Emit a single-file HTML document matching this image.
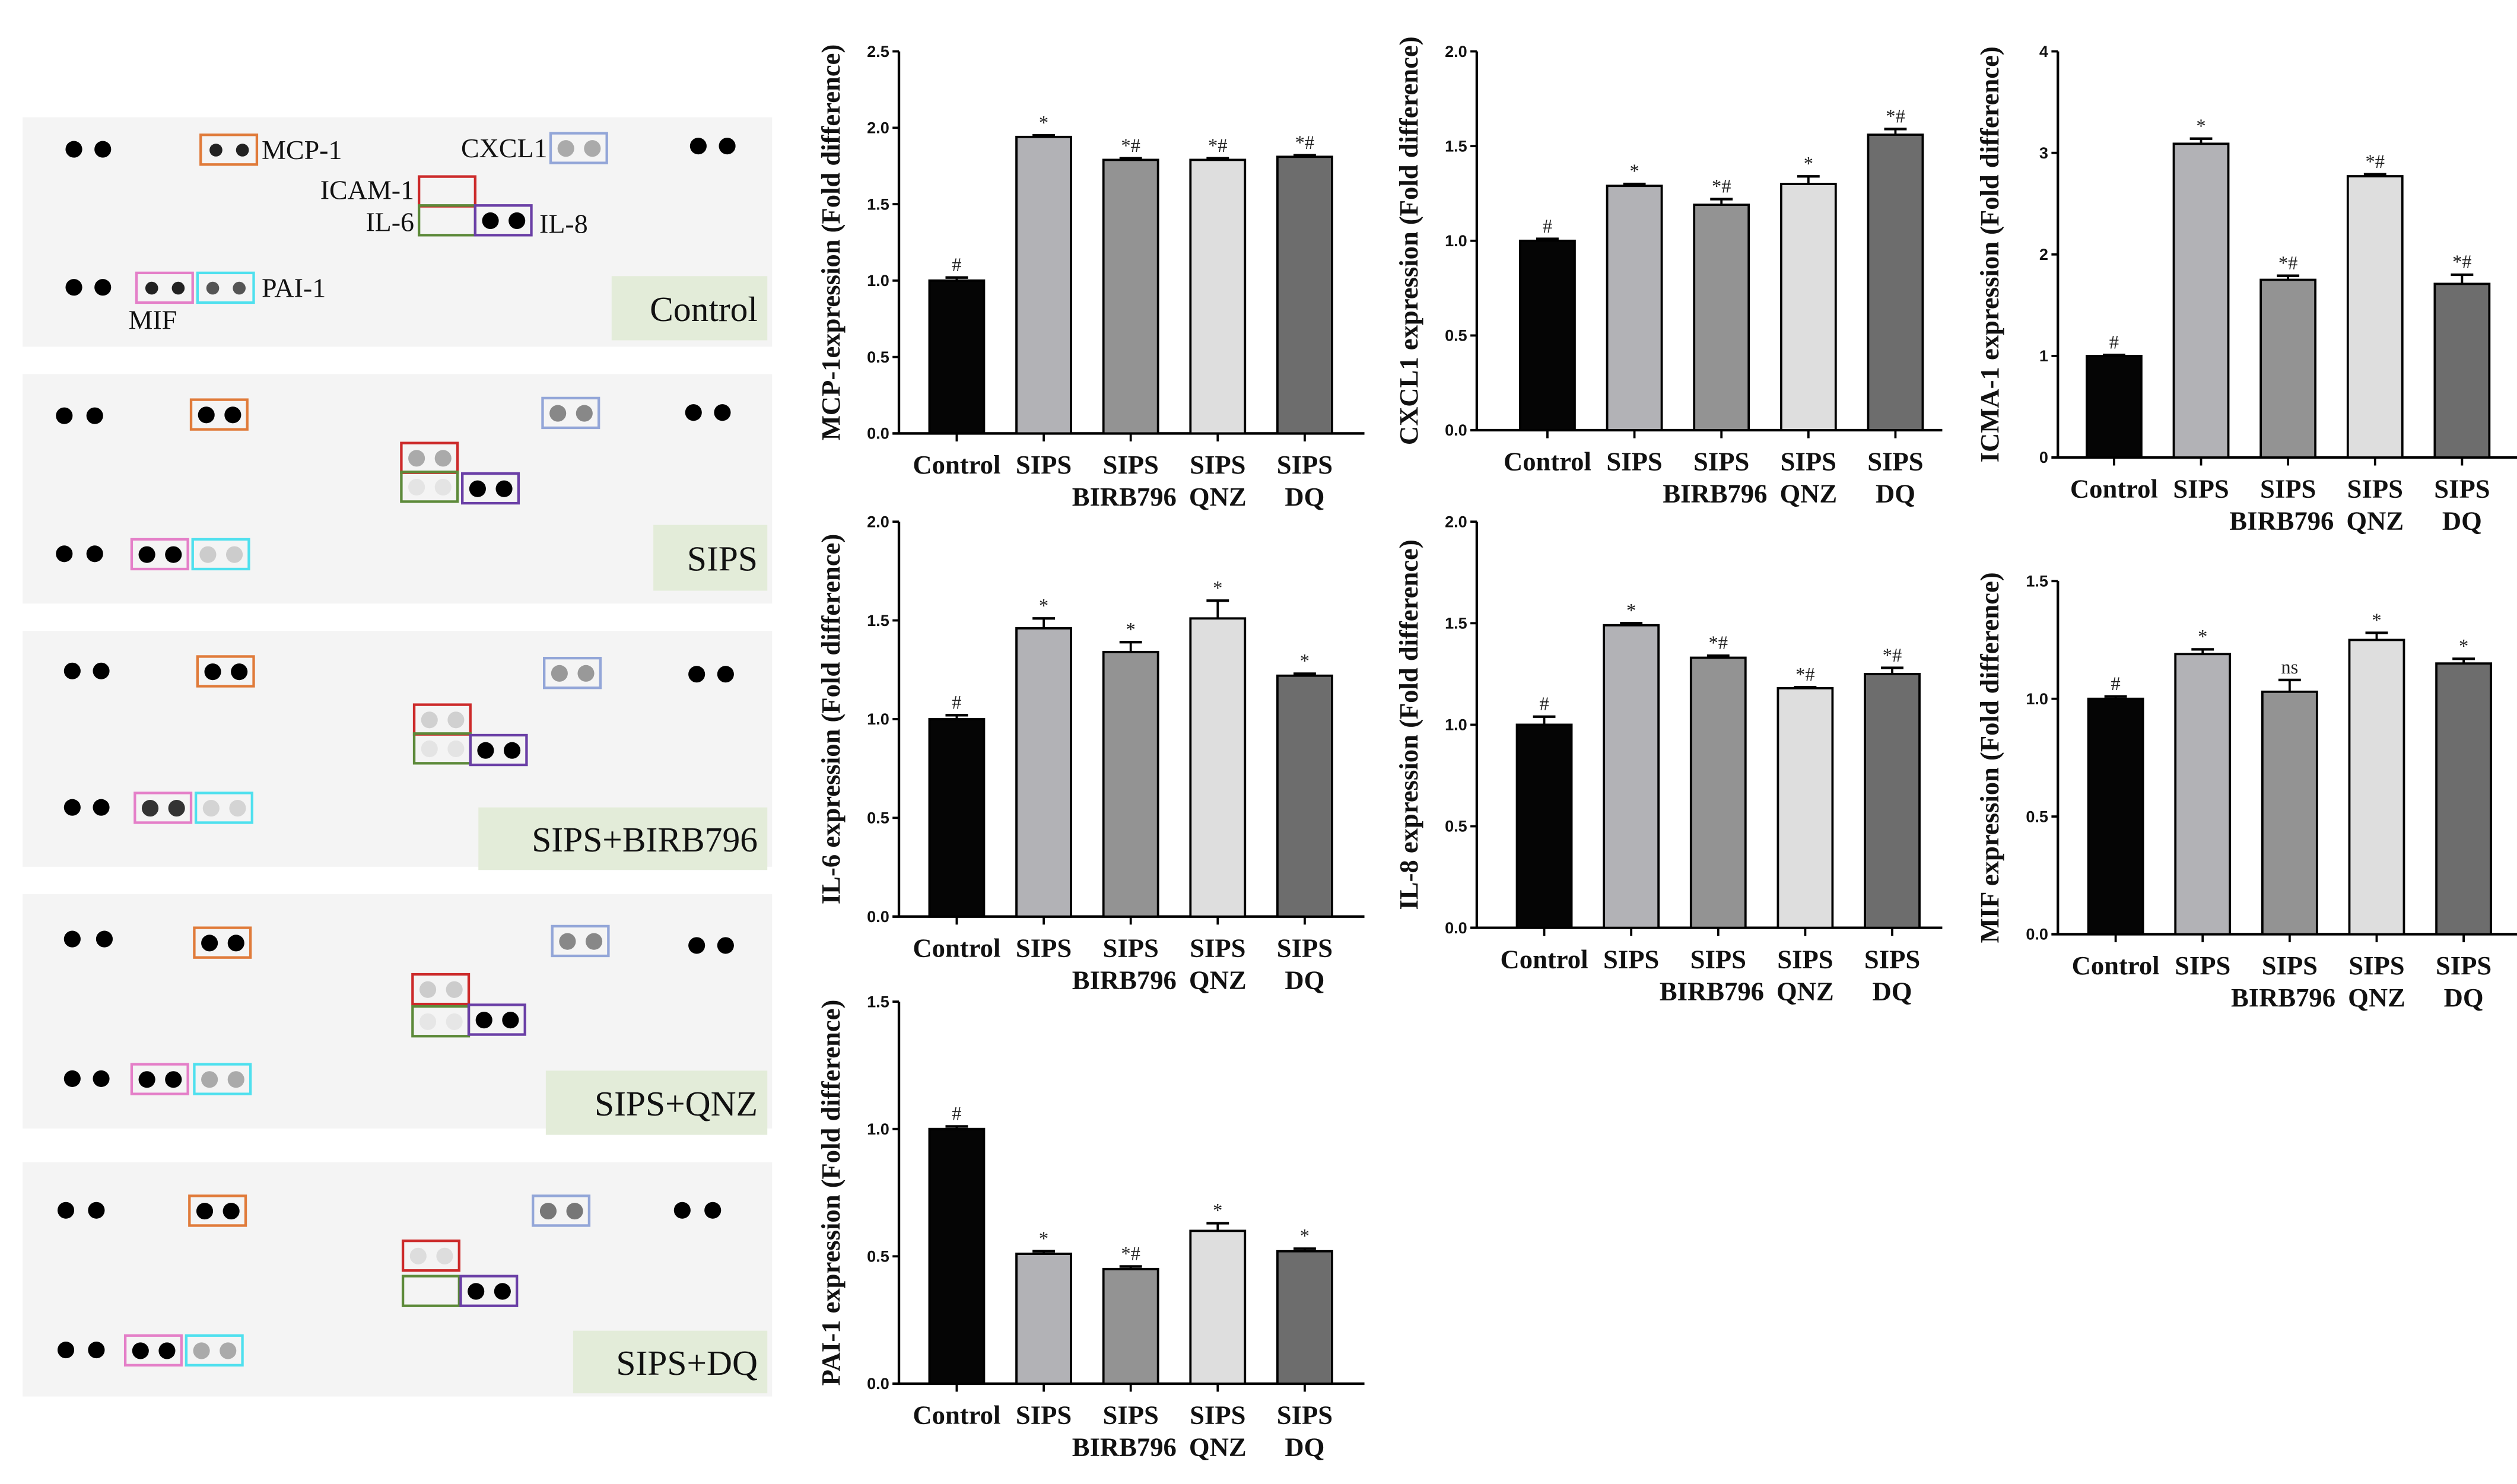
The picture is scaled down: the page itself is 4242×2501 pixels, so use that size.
<!DOCTYPE html>
<html><head><meta charset="utf-8">
<style>
html,body{margin:0;padding:0;background:#fff;}
svg{display:block;}
</style></head>
<body>
<svg id="fig" xmlns="http://www.w3.org/2000/svg" width="4242" height="2501" viewBox="0 0 1568 924.5">
<g id="membranes"></g>
<g id="charts"></g>
</svg>
<script>
// ---------- chart data ----------
const categories = ["Control","SIPS","SIPS\nBIRB796","SIPS\nQNZ","SIPS\nDQ"];
const mcp1Values = [1.0,1.94,1.79,1.79,1.81];
const mcp1Errors = [0.02,0.01,0.01,0.01,0.01];
const mcp1Marks = ["#","*","*#","*#","*#"];
const cxcl1Values = [1.0,1.29,1.19,1.30,1.56];
const cxcl1Errors = [0.01,0.01,0.03,0.04,0.03];
const cxcl1Marks = ["#","*","*#","*","*#"];
const icam1Values = [1.0,3.09,1.75,2.77,1.71];
const icam1Errors = [0.01,0.05,0.04,0.02,0.09];
const icam1Marks = ["#","*","*#","*#","*#"];
const il6Values = [1.0,1.46,1.34,1.51,1.22];
const il6Errors = [0.02,0.05,0.05,0.09,0.01];
const il6Marks = ["#","*","*","*","*"];
const il8Values = [1.0,1.49,1.33,1.18,1.25];
const il8Errors = [0.04,0.01,0.01,0.005,0.03];
const il8Marks = ["#","*","*#","*#","*#"];
const mifValues = [1.0,1.19,1.03,1.25,1.15];
const mifErrors = [0.01,0.02,0.05,0.03,0.02];
const mifMarks = ["#","*","ns","*","*"];
const pai1Values = [1.0,0.51,0.45,0.60,0.52];
const pai1Errors = [0.01,0.01,0.01,0.03,0.01];
const pai1Marks = ["#","*","*#","*","*"];
const ticks25 = ["0.0","0.5","1.0","1.5","2.0","2.5"];
const ticks20 = ["0.0","0.5","1.0","1.5","2.0"];
const ticks4 = ["0","1","2","3","4"];
const ticks15 = ["0.0","0.5","1.0","1.5"];
const barColors = ["#050505","#b2b2b6","#939393","#dedede","#6d6d6d"];

const NS = "http://www.w3.org/2000/svg";
function mk(tag, attrs, parent){
  const e = document.createElementNS(NS, tag);
  for (const k in attrs) e.setAttribute(k, attrs[k]);
  parent.appendChild(e);
  return e;
}
const SERIF = '"Liberation Serif", serif';
const SANS = '"Liberation Sans", sans-serif';

function drawChart(o){
  const root = document.getElementById('charts');
  const g = mk('g', {}, root);
  
  
  const tickVals = o.ticks.map(Number);
  const maxV = tickVals[tickVals.length-1];
  const y = v => o.y0 - (v / maxV) * (o.y0 - o.yTop);
  const x = i => o.x0 + 36 + i * 54.2;
  const ya = mk('line', {x1:o.axX, y1:o.yTop, x2:o.axX, y2:o.y0, stroke:'#000','stroke-width':1.6}, g);
  
  
  const xa = mk('line', {x1:o.axX-4, y1:o.y0, x2:o.axX+290, y2:o.y0, stroke:'#000','stroke-width':1.6}, g);
  
  
  o.ticks.forEach((t, i) => {
    const yy = y(tickVals[i]);
    mk('line', {x1:o.axX-4, y1:yy, x2:o.axX, y2:yy, stroke:'#000','stroke-width':1.4}, g);
    const tl = mk('text', {x:o.axX-6, y:yy+3.4, 'text-anchor':'end', 'font-family':SANS, 'font-weight':'bold', 'font-size':10, fill:'#111'}, g);
    tl.textContent = t;
    
    
  });
  const midY = (o.yTop + o.y0) / 2;
  const tt = mk('text', {x:0, y:0, transform:`translate(${o.axX-37},${midY}) rotate(-90)`, 'text-anchor':'middle', 'font-family':SERIF, 'font-weight':'bold', 'font-size':16.5, fill:'#111'}, g);
  tt.textContent = o.title;
  
  
  o.values.forEach((v, i) => {
    const cx = x(i), w = 34;
    const bar = mk('rect', {x:cx-w/2, y:y(v), width:w, height:o.y0-y(v), fill:barColors[i], stroke:'#000','stroke-width':1.4}, g);
    
    
    const ye = y(v + o.errors[i]);
    mk('line', {x1:cx, y1:y(v), x2:cx, y2:ye, stroke:'#000','stroke-width':1.4}, g);
    const eb = mk('line', {x1:cx-7, y1:ye, x2:cx+7, y2:ye, stroke:'#000','stroke-width':1.6}, g);
    
    
    const an = mk('text', {x:cx, y:ye-4, 'text-anchor':'middle', 'font-family':SERIF, 'font-size':12, fill:'#222'}, g);
    an.textContent = o.marks[i];
    
    
    mk('line', {x1:cx, y1:o.y0, x2:cx, y2:o.y0+5, stroke:'#000','stroke-width':1.4}, g);
    const lines = categories[i].split('\n');
    lines.forEach((ln, j) => {
      const tx = mk('text', {x:cx + (j===1 && i===2 ? -4 : 0), y:o.y0+25+j*20, 'text-anchor':'middle', 'font-family':SERIF, 'font-weight':'bold', 'font-size':16.5, fill:'#111'}, g);
      tx.textContent = ln;
      
      
    });
  });
}

drawChart({name:'mcp-1', title:'MCP-1expression (Fold difference)', axX:560, x0:560, yTop:32, y0:270, ticks:ticks25, values:mcp1Values, errors:mcp1Errors, marks:mcp1Marks});
drawChart({name:'cxcl1', title:'CXCL1 expression (Fold difference)', axX:920, x0:928, yTop:32, y0:268, ticks:ticks20, values:cxcl1Values, errors:cxcl1Errors, marks:cxcl1Marks});
drawChart({name:'icam-1', title:'ICMA-1 expression (Fold difference)', axX:1282, x0:1281, yTop:32, y0:285, ticks:ticks4, values:icam1Values, errors:icam1Errors, marks:icam1Marks});
drawChart({name:'il-6', title:'IL-6 expression (Fold difference)', axX:560, x0:560, yTop:325, y0:571, ticks:ticks20, values:il6Values, errors:il6Errors, marks:il6Marks});
drawChart({name:'il-8', title:'IL-8 expression (Fold difference)', axX:920, x0:926, yTop:325, y0:578, ticks:ticks20, values:il8Values, errors:il8Errors, marks:il8Marks});
drawChart({name:'mif', title:'MIF expression (Fold difference)', axX:1282, x0:1282, yTop:362, y0:582, ticks:ticks15, values:mifValues, errors:mifErrors, marks:mifMarks});
drawChart({name:'pai-1', title:'PAI-1 expression (Fold difference)', axX:560, x0:560, yTop:624, y0:862, ticks:ticks15, values:pai1Values, errors:pai1Errors, marks:pai1Marks});

// ---------- membrane panels ----------
const panels = [
 {label:'Control', y0:73, y1:216, ref1:[46,64,93], ora:[125,84], blu:[343,83], ref2:[435,453,91], red:[261,110], grn:[261,128], pur:[296,128], refB:[46,64,179], pnk:[85,170], cyn:[123,170], lab:[381,172,478,212],
  col:{ora:'#222',blu:'#aaa',red:null,grn:null,pur:'#000',pnk:'#222',cyn:'#555'}, rs:{ora:4,pnk:4,cyn:4}},
 {label:'SIPS', y0:233, y1:376, ref1:[40,59,259], ora:[119,249], blu:[338,248], ref2:[432,450,257], red:[250,276], grn:[250,294], pur:[288,295], refB:[40,59,345], pnk:[82,336], cyn:[120,336], lab:[407,327,478,368],
  col:{ora:'#000',blu:'#888',red:'#aaa',grn:'#e4e4e4',pur:'#000',pnk:'#000',cyn:'#ccc'}, rs:{}},
 {label:'SIPS+BIRB796', y0:393, y1:540, ref1:[45,63,418], ora:[123,409], blu:[339,410], ref2:[434,452,420], red:[258,439], grn:[258,457], pur:[293,458], refB:[45,63,503], pnk:[84,494], cyn:[122,494], lab:[298,503,478,542],
  col:{ora:'#000',blu:'#999',red:'#d0d0d0',grn:'#e4e4e4',pur:'#000',pnk:'#333',cyn:'#d4d4d4'}, rs:{}},
 {label:'SIPS+QNZ', y0:557, y1:703, ref1:[45,65,585], ora:[121,578], blu:[344,577], ref2:[434,452,589], red:[257,607], grn:[257,627], pur:[292,626], refB:[45,63,672], pnk:[82,663], cyn:[121,663], lab:[340,667,478,707],
  col:{ora:'#000',blu:'#888',red:'#ccc',grn:'#e6e6e6',pur:'#000',pnk:'#000',cyn:'#aaa'}, rs:{}},
 {label:'SIPS+DQ', y0:724, y1:870, ref1:[41,60,754], ora:[118,745], blu:[332,745], ref2:[425,444,754], red:[251,773], grn:[251,795], pur:[287,795], refB:[41,60,841], pnk:[78,832], cyn:[116,832], lab:[357,829,478,868],
  col:{ora:'#000',blu:'#777',red:'#ddd',grn:null,pur:'#000',pnk:'#000',cyn:'#aaa'}, rs:{}}
];
const boxColors = {ora:'#e07b3a', blu:'#93a6d8', red:'#cc2a2a', grn:'#5d8a3a', pur:'#6a3fa6', pnk:'#e47fc8', cyn:'#4fe0ee'};
const boxNames = {ora:'mcp-1-box', blu:'cxcl1-box', red:'icam-1-box', grn:'il-6-box', pur:'il-8-box', pnk:'mif-box', cyn:'pai-1-box'};
const mroot = document.getElementById('membranes');
panels.forEach((p, pi) => {
  const g = mk('g', {}, mroot);
  
  
  mk('rect', {x:14, y:p.y0, width:467, height:p.y1-p.y0, fill:'#f4f4f4'}, g);
  [p.ref1, p.ref2, p.refB].forEach(r => {
    mk('circle', {cx:r[0], cy:r[2], r:5.2, fill:'#000'}, g);
    mk('circle', {cx:r[1], cy:r[2], r:5.2, fill:'#000'}, g);
  });
  Object.keys(boxColors).forEach(k => {
    const [bx, by] = p[k];
    const c = p.col[k];
    if (c) {
      const r = p.rs[k] || 5.2;
      mk('circle', {cx:bx+9.5, cy:by+9.5, r:r, fill:c}, g);
      mk('circle', {cx:bx+26, cy:by+9.5, r:r, fill:c}, g);
    }
    const b = mk('rect', {x:bx, y:by, width:35, height:18.5, fill:'none', stroke:boxColors[k], 'stroke-width':1.6}, g);
    
    
  });
  const [lx0, ly0, lx1, ly1] = p.lab;
  const lb = mk('rect', {x:lx0, y:ly0, width:lx1-lx0, height:ly1-ly0, fill:'#e3ecd9'}, g);
  
  
  const lt = mk('text', {x:lx1-6, y:(ly0+ly1)/2+8, 'text-anchor':'end', 'font-family':SERIF, 'font-size':22, fill:'#111'}, g);
  lt.textContent = p.label;
  
  
});
const ctrlLabels = [['MCP-1',163,99,'start'],['CXCL1',341,98,'end'],['ICAM-1',258,124,'end'],['IL-6',258,144,'end'],['IL-8',336,145,'start'],['PAI-1',163,185,'start'],['MIF',80,205,'start']];
ctrlLabels.forEach(l => {
  const t = mk('text', {x:l[1], y:l[2], 'text-anchor':l[3], 'font-family':SERIF, 'font-size':17, fill:'#111'}, mroot);
  t.textContent = l[0];
  
  
});
</script>
</body></html>
